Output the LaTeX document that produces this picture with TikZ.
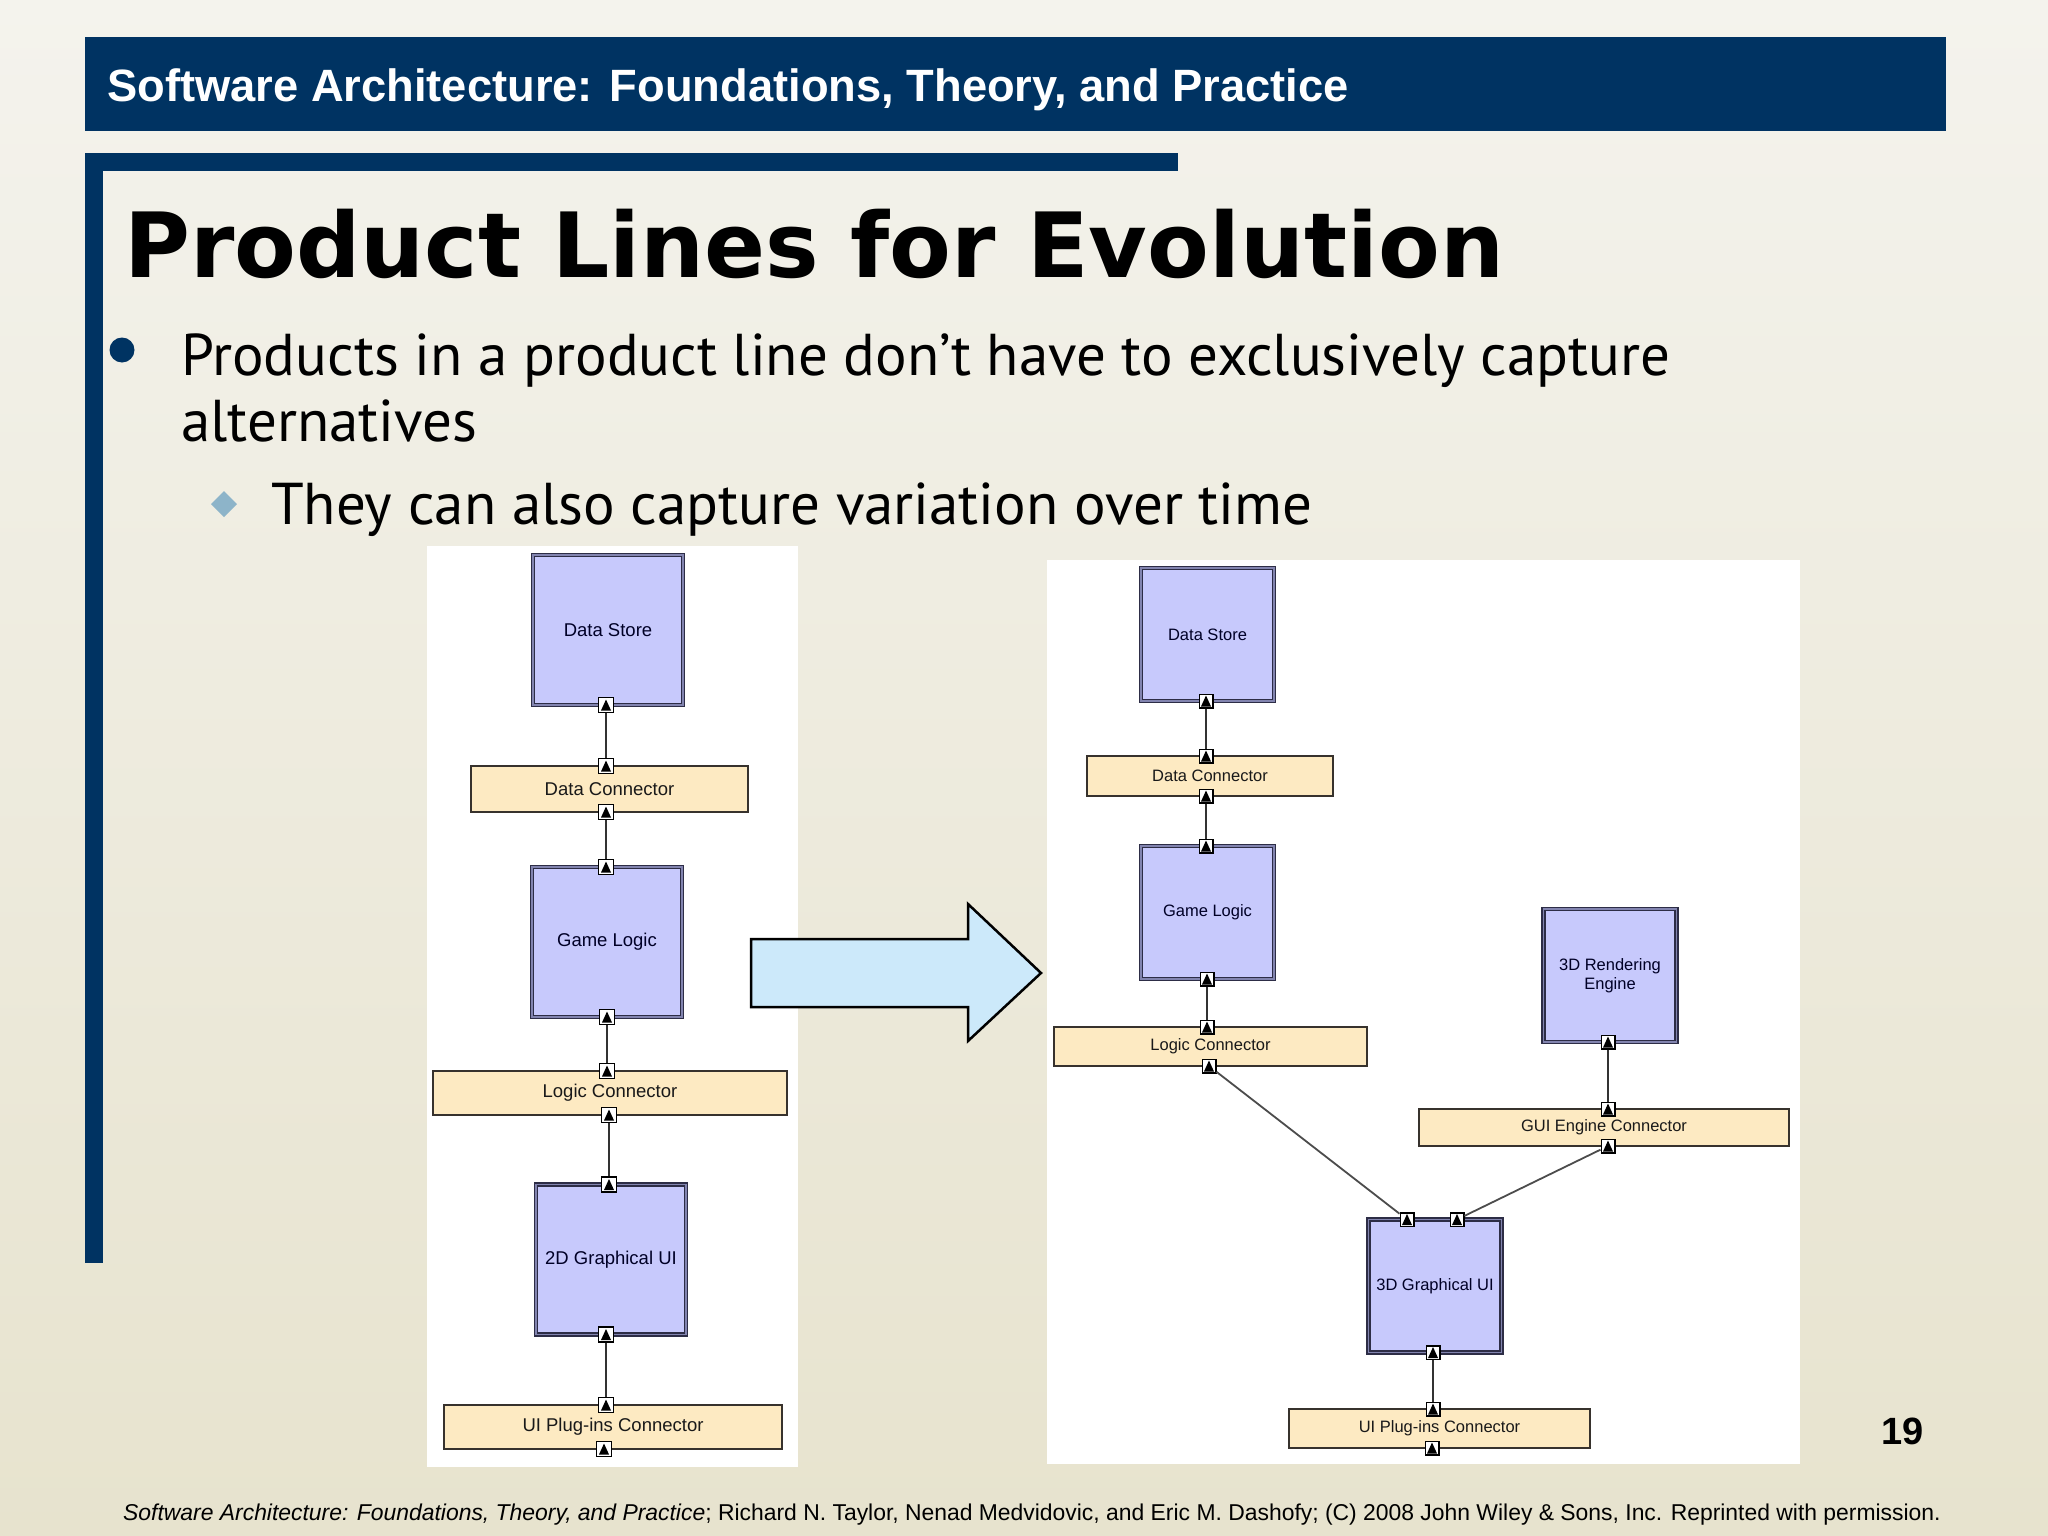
\documentclass[tikz,border=0pt]{standalone}
\usepackage{fontspec}
\setmainfont{Liberation Sans}
\newfontfamily\titlefont{DejaVu Sans}
\newfontfamily\bodyfont{PT Sans}
\usepackage{tikz}
\usetikzlibrary{positioning}
\definecolor{navy}{RGB}{0,51,98}
\definecolor{bgtop}{RGB}{244,243,237}
\definecolor{bgbot}{RGB}{231,227,206}
\definecolor{compfill}{RGB}{199,201,252}
\definecolor{compedge}{RGB}{45,45,70}
\definecolor{compgap}{RGB}{130,132,175}
\definecolor{connfill}{RGB}{253,234,194}
\definecolor{connedge}{RGB}{55,50,45}
\definecolor{arrowfill}{RGB}{204,233,250}
\definecolor{diamondc}{RGB}{141,180,201}
\newcommand{\diagL}{\fontsize{18.5}{21}\selectfont}
\newcommand{\diagR}{\fontsize{16.5}{19}\selectfont}
\tikzstyle{comp} = [draw=compedge, line width=1.4pt, double=compgap, double distance=1.4pt, fill=compfill, inner sep=0pt, outer sep=0pt, align=center, text=black!85!blue, font=\diagL]
\tikzstyle{conn} = [draw=connedge, line width=2pt, fill=connfill, inner sep=0pt, outer sep=0pt, text=black!90, font=\diagL]
\tikzstyle{iface} = [draw=black, line width=1.5pt, fill=white, minimum size=15pt, inner sep=0pt, path picture={\fill[black] ([shift={(-5pt,-5.5pt)}]path picture bounding box.center) -- ([shift={(5pt,-5.5pt)}]path picture bounding box.center) -- ([shift={(0pt,5.5pt)}]path picture bounding box.center) -- cycle;}]
\tikzstyle{ifaceR} = [iface, minimum size=13.5pt]
\tikzstyle{link} = [draw=black!80, line width=1.8pt]
\tikzstyle{txt} = [anchor=base west, inner sep=0pt]

\begin{document}
\begin{tikzpicture}[x=1pt, y=-1pt]
\useasboundingbox (0,0) rectangle (2048,1536);
\shade[top color=bgtop, bottom color=bgbot] (0,0) rectangle (2048,1536);
\fill[navy] (85,37) rectangle (1946,131);
\fill[navy] (85,153) rectangle (1178,171);
\fill[navy] (85,153) rectangle (103,1263);
\node[txt, text=white, font=\bfseries\fontsize{45.3}{50}\selectfont] (hdr) at (107,102) {Software Architecture: Foundations, Theory, and Practice};
\node[txt, font=\titlefont\bfseries\fontsize{90}{100}\selectfont] (ttl) at (124,277) {Product Lines for Evolution};
\fill[navy] (122,350) circle (12.5);
\node[txt, font=\bodyfont\fontsize{59}{66}\selectfont] (b1) at (181,375) {Products in a product line don’t have to exclusively capture};
\node[txt, font=\bodyfont\fontsize{59}{66}\selectfont] (b1b) at (181,441) {alternatives};
\fill[diamondc] (224,491) -- (237,504) -- (224,517) -- (211,504) -- cycle;
\node[txt, font=\bodyfont\fontsize{59}{66}\selectfont] (b2) at (271,524) {They can also capture variation over time};
\node[txt, font=\bfseries\fontsize{38}{42}\selectfont] (pgno) at (1881,1444) {19};
\node[txt, font=\fontsize{22.9}{26}\selectfont] (foot) at (123,1520) {\textit{Software Architecture: Foundations, Theory, and Practice}; Richard N. Taylor, Nenad Medvidovic, and Eric M. Dashofy; (C) 2008 John Wiley \& Sons, Inc. Reprinted with permission.};

\fill[white] (427,546) rectangle (798,1467);
\fill[white] (1047,560) rectangle (1800,1464);

\node[comp, minimum size=150] (lds) at (608,630) {Data Store};
\node[conn, minimum width=277, minimum height=46] (ldc) at (609.5,789) {Data Connector};
\node[comp, minimum size=150] (lgl) at (607,942) {Game Logic};
\node[conn, minimum width=354, minimum height=44] (llc) at (610,1093) {Logic Connector};
\node[comp, minimum size=150] (l2d) at (611,1259.5) {2D Graphical UI};
\node[conn, minimum width=338, minimum height=44] (lup) at (613,1427) {UI Plug-ins Connector};
\node[iface] (lds-s) at ([xshift=-2]lds.south) {};
\node[iface] (ldc-n) at ([xshift=-3.5]ldc.north) {};
\node[iface] (ldc-s) at ([xshift=-3.5]ldc.south) {};
\node[iface] (lgl-n) at ([xshift=-1]lgl.north) {};
\node[iface] (lgl-s) at (lgl.south) {};
\node[iface] (llc-n) at ([xshift=-3]llc.north) {};
\node[iface] (llc-s) at ([xshift=-1]llc.south) {};
\node[iface] (l2d-n) at ([xshift=-2]l2d.north) {};
\node[iface] (l2d-s) at ([xshift=-5]l2d.south) {};
\node[iface] (lup-n) at ([xshift=-7]lup.north) {};
\node[iface] (lup-s) at ([xshift=-9]lup.south) {};
\draw[link] (lds-s) -- (ldc-n);
\draw[link] (ldc-s) -- (lgl-n);
\draw[link] (lgl-s) -- (llc-n);
\draw[link] (llc-s) -- (l2d-n);
\draw[link] (l2d-s) -- (lup-n);

\draw[line width=2.5pt, fill=arrowfill] (751,939) -- (968,939) -- (968,904) -- (1041,973) -- (968,1041) -- (968,1007) -- (751,1007) -- cycle;

\node[comp, font=\diagR, minimum size=133] (rds) at (1207.5,634.5) {Data Store};
\node[conn, font=\diagR, minimum width=246, minimum height=40] (rdc) at (1210,776) {Data Connector};
\node[comp, font=\diagR, minimum size=133] (rgl) at (1207.5,912.5) {Game Logic};
\node[conn, font=\diagR, minimum width=313, minimum height=39] (rlc) at (1210.5,1046.5) {Logic Connector};
\node[comp, font=\diagR, minimum size=133] (rre) at (1610,975.5) {3D Rendering\\Engine};
\node[conn, font=\diagR, minimum width=370, minimum height=37] (rge) at (1604,1127.5) {GUI Engine Connector};
\node[comp, font=\diagR, minimum size=133] (r3d) at (1435,1286) {3D Graphical UI};
\node[conn, font=\diagR, minimum width=301, minimum height=39] (rup) at (1439.5,1428.5) {UI Plug-ins Connector};
\node[ifaceR] (rds-s) at ([xshift=-1.5]rds.south) {};
\node[ifaceR] (rdc-n) at ([xshift=-4]rdc.north) {};
\node[ifaceR] (rdc-s) at ([xshift=-4]rdc.south) {};
\node[ifaceR] (rgl-n) at ([xshift=-1.5]rgl.north) {};
\node[ifaceR] (rgl-s) at ([xshift=-0.5]rgl.south) {};
\node[ifaceR] (rlc-n) at ([xshift=-3.5]rlc.north) {};
\node[ifaceR] (rlc-s) at ([xshift=-1.5]rlc.south) {};
\node[ifaceR] (rre-s) at ([xshift=-2]rre.south) {};
\node[ifaceR] (rge-n) at ([xshift=4]rge.north) {};
\node[ifaceR] (rge-s) at ([xshift=4]rge.south) {};
\node[ifaceR] (r3d-n1) at ([xshift=-28]r3d.north) {};
\node[ifaceR] (r3d-n2) at ([xshift=22]r3d.north) {};
\node[ifaceR] (r3d-s) at ([xshift=-2]r3d.south) {};
\node[ifaceR] (rup-n) at ([xshift=-6.5]rup.north) {};
\node[ifaceR] (rup-s) at ([xshift=-7.5]rup.south) {};
\draw[link] (rds-s) -- (rdc-n);
\draw[link] (rdc-s) -- (rgl-n);
\draw[link] (rgl-s) -- (rlc-n);
\draw[link] (rre-s) -- (rge-n);
\draw[link, draw=black!70] (rlc-s) -- (r3d-n1);
\draw[link, draw=black!70] (rge-s) -- (r3d-n2);
\draw[link] (r3d-s) -- (rup-n);
\end{tikzpicture}
\end{document}
